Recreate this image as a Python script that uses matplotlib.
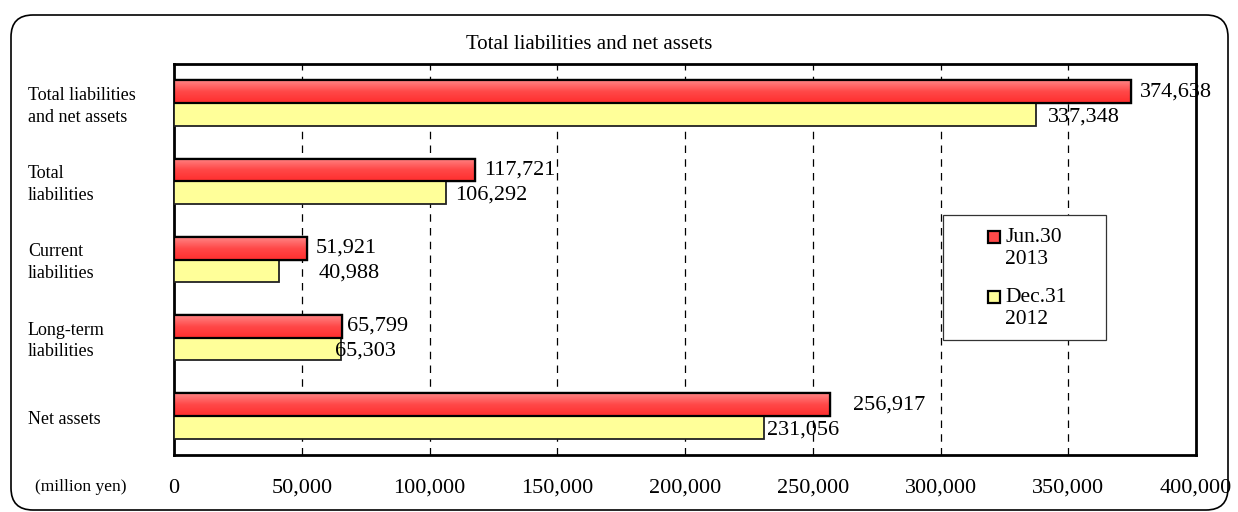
#Total liabilities and net assets - horizontal bar chart
import numpy as np
import matplotlib
matplotlib.use("Agg")
import matplotlib.pyplot as plt
from matplotlib.patches import FancyBboxPatch, Rectangle
from matplotlib.transforms import IdentityTransform
from matplotlib.colors import LinearSegmentedColormap

#Data (million yen)
categories = ["Total liabilities\nand net assets", "Total\nliabilities", "Current\nliabilities",
              "Long-term\nliabilities", "Net assets"]
jun_2013 = [374638, 117721, 51921, 65799, 256917]
dec_2012 = [337348, 106292, 40988, 65303, 231056]
series_labels = [("Jun.30", "2013"), ("Dec.31", "2012")]
x_ticks = [0, 50000, 100000, 150000, 200000, 250000, 300000, 350000, 400000]

#label offsets from bar end (pixels), set by hand like the original
jun_offsets = [9, 9, 9, 5, 23]
dec_offsets = [12, 9, 40, -6, 3]

plt.rcParams['font.family'] = ['Liberation Serif', 'DejaVu Serif']

W, H = 1238, 512
fig = plt.figure(figsize=(W / 100, H / 100), dpi=100)
ax = fig.add_axes([0.1406, 0.1113, 0.8255, 0.7637])

y = np.arange(len(categories))
h = 0.29
red = "#ff4a4a"
yellow = "#ffff99"

red_cmap = LinearSegmentedColormap.from_list("redgrad", ["#ff8585", "#ff4848", "#ff2e2e"])

red_bars = ax.barh(y - h / 2, jun_2013, height=h, color=red, edgecolor="black", linewidth=1.6, zorder=3)
yel_bars = ax.barh(y + h / 2, dec_2012, height=h, color=yellow, edgecolor="#222222", linewidth=1.3, zorder=3)

#gradient fill on the red bars
grad = np.linspace(0, 1, 64).reshape(-1, 1)
for bar in red_bars:
    x0, y0 = bar.get_x(), bar.get_y()
    w, hh = bar.get_width(), bar.get_height()
    im = ax.imshow(grad, cmap=red_cmap, aspect="auto", extent=(x0, x0 + w, y0 + hh, y0),
                   origin="upper", zorder=3.5, interpolation="bilinear")
    im.set_clip_path(bar)
    ax.barh(y0 + hh / 2, w, left=x0, height=hh, color="none", edgecolor="black", linewidth=1.6, zorder=4)

#value labels
px = 400000 / 1022.0
for i in range(len(categories)):
    ax.text(jun_2013[i] + jun_offsets[i] * px, y[i] - h / 2, f"{jun_2013[i]:,}",
            va="center", ha="left", fontsize=16, zorder=6)
    ax.text(dec_2012[i] + dec_offsets[i] * px, y[i] + h / 2 + 0.03, f"{dec_2012[i]:,}",
            va="center", ha="left", fontsize=16, zorder=6)

ax.set_xlim(0, 400000)
ax.set_ylim(len(categories) - 0.5, -0.5)
ax.set_xticks(x_ticks)
ax.set_xticklabels([f"{v:,}" for v in x_ticks], fontsize=16)
ax.tick_params(axis="x", length=0, pad=17)
ax.set_yticks([])
for v in x_ticks[1:-1]:
    ax.axvline(v, color="black", linestyle=(0, (6, 5)), linewidth=0.9, zorder=1)
for s in ax.spines.values():
    s.set_linewidth(2)

#category labels on the left
for i, c in enumerate(categories):
    ax.text(-0.143, y[i] + 0.04, c, transform=ax.get_yaxis_transform(), ha="left", va="center",
            fontsize=13, linespacing=1.35)

fig.text(0.0283, 0.049, "(million yen)", fontsize=12.5, ha="left", va="center")
fig.text(0.476, 0.914, "Total liabilities and net assets", fontsize=15, ha="center", va="center")

#legend drawn by hand in pixel coordinates (y measured from top)
def pix(xp, yp):
    return xp, H - yp

tr = IdentityTransform()
fig.add_artist(Rectangle(pix(943, 340), 163, 125, transform=tr, facecolor="white",
                         edgecolor="#333333", linewidth=0.9, zorder=8))
for (line1, line2), col, yp in zip(series_labels, [red, yellow], [237, 297]):
    fig.add_artist(Rectangle(pix(988, yp + 6), 12, 12, transform=tr, facecolor=col,
                             edgecolor="black", linewidth=1.6, zorder=9))
    fig.text(1005 / W, 1 - yp / H, line1, fontsize=15.5, ha="left", va="center", zorder=9)
    fig.text(1005 / W, 1 - (yp + 23) / H, line2, fontsize=15.5, ha="left", va="center", zorder=9)

#rounded outer frame
frame = FancyBboxPatch((11, 2), 1217, 495, boxstyle="round,pad=0,rounding_size=22",
                       transform=tr, facecolor="none", edgecolor="black", linewidth=1.2)
fig.add_artist(frame)

fig.savefig("out.png", dpi=100)
